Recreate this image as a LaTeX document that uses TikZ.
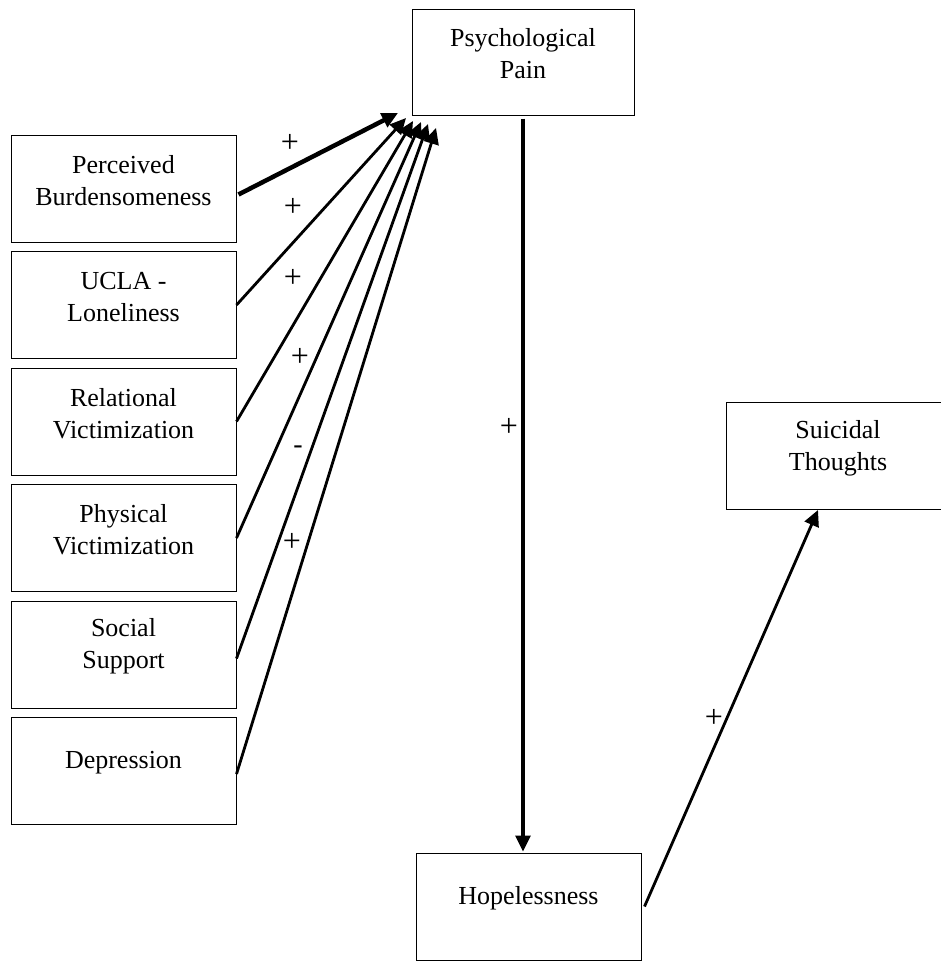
\documentclass[tikz,border=0pt]{standalone}
\usepackage{fontspec}
\setmainfont{Liberation Serif}
\usetikzlibrary{arrows.meta,positioning}

\begin{document}
\begin{tikzpicture}[x=1pt,y=-1pt,node distance=8.5pt,
    box/.style={draw,line width=1pt,minimum width=225pt,minimum height=107pt,inner sep=0pt},
    boxtext/.style={align=center,font=\fontsize{26}{32}\selectfont,yshift=8pt},
    sign/.style={font=\fontsize{32}{36}\selectfont,inner sep=0pt},
    link/.style={-{Triangle[length=16pt,width=15pt]},line width=2.8pt}]
    \useasboundingbox (0,0) rectangle (940,961);

    % Boxes
    \node[box,minimum width=222pt,minimum height=106pt,label={[boxtext]center:Psychological\\Pain}] (pp) at (523,62) {};
    \node[box,label={[boxtext]center:Perceived\\Burdensomeness}] (pb) at (123.5,188.5) {};
    \node[box,below=of pb,label={[boxtext]center:UCLA -\\Loneliness}] (ul) {};
    \node[box,below=of ul,label={[boxtext]center:Relational\\Victimization}] (rv) {};
    \node[box,below=of rv,label={[boxtext]center:Physical\\Victimization}] (pv) {};
    \node[box,below=of pv,label={[boxtext]center:Social\\Support}] (ss) {};
    \node[box,below=of ss,label={[boxtext]center:Depression}] (dp) {};
    \node[box,minimum width=224pt,label={[boxtext]center:Suicidal\\Thoughts}] (st) at (838,456) {};
    \node[box,label={[boxtext]center:Hopelessness}] (hp) at (528.5,906.5) {};

    % Arrow tips below Psychological Pain
    \coordinate (t1) at (398,113);
    \coordinate (t2) at (406,118);
    \coordinate (t3) at (413,121);
    \coordinate (t4) at (421,122);
    \coordinate (t5) at (428,124);
    \coordinate (t6) at (436,128);

    % Arrows
    \draw[link,line width=4.5pt] ([shift={(2pt,-6pt)}]pb.east) -- (t1);
    \draw[link] (ul.east) -- (t2);
    \draw[link] (rv.east) -- (t3);
    \draw[link] (pv.east) -- (t4);
    \draw[link] ([yshift=-4pt]ss.east) -- (t5);
    \draw[link] ([yshift=-3pt]dp.east) -- (t6);
    \draw[link,line width=3.2pt] ([yshift=-3pt]pp.south) -- ([yshift=1pt]pp.south |- hp.north);
    \draw[link] ([xshift=3pt]hp.east) -- ([xshift=-20pt]st.south);

    % Signs
    \node[sign] (s1) at (290,143) {+};
    \node[sign] (s2) at (293,207) {+};
    \node[sign] (s3) at (293,278) {+};
    \node[sign] (s4) at (300,357) {+};
    \node[sign,font=\fontsize{28}{32}\selectfont] (s5) at (298,450) {-};
    \node[sign] (s6) at (292,542) {+};
    \node[sign] (s7) at (509,427) {+};
    \node[sign] (s8) at (714,718) {+};
\end{tikzpicture}
\end{document}
